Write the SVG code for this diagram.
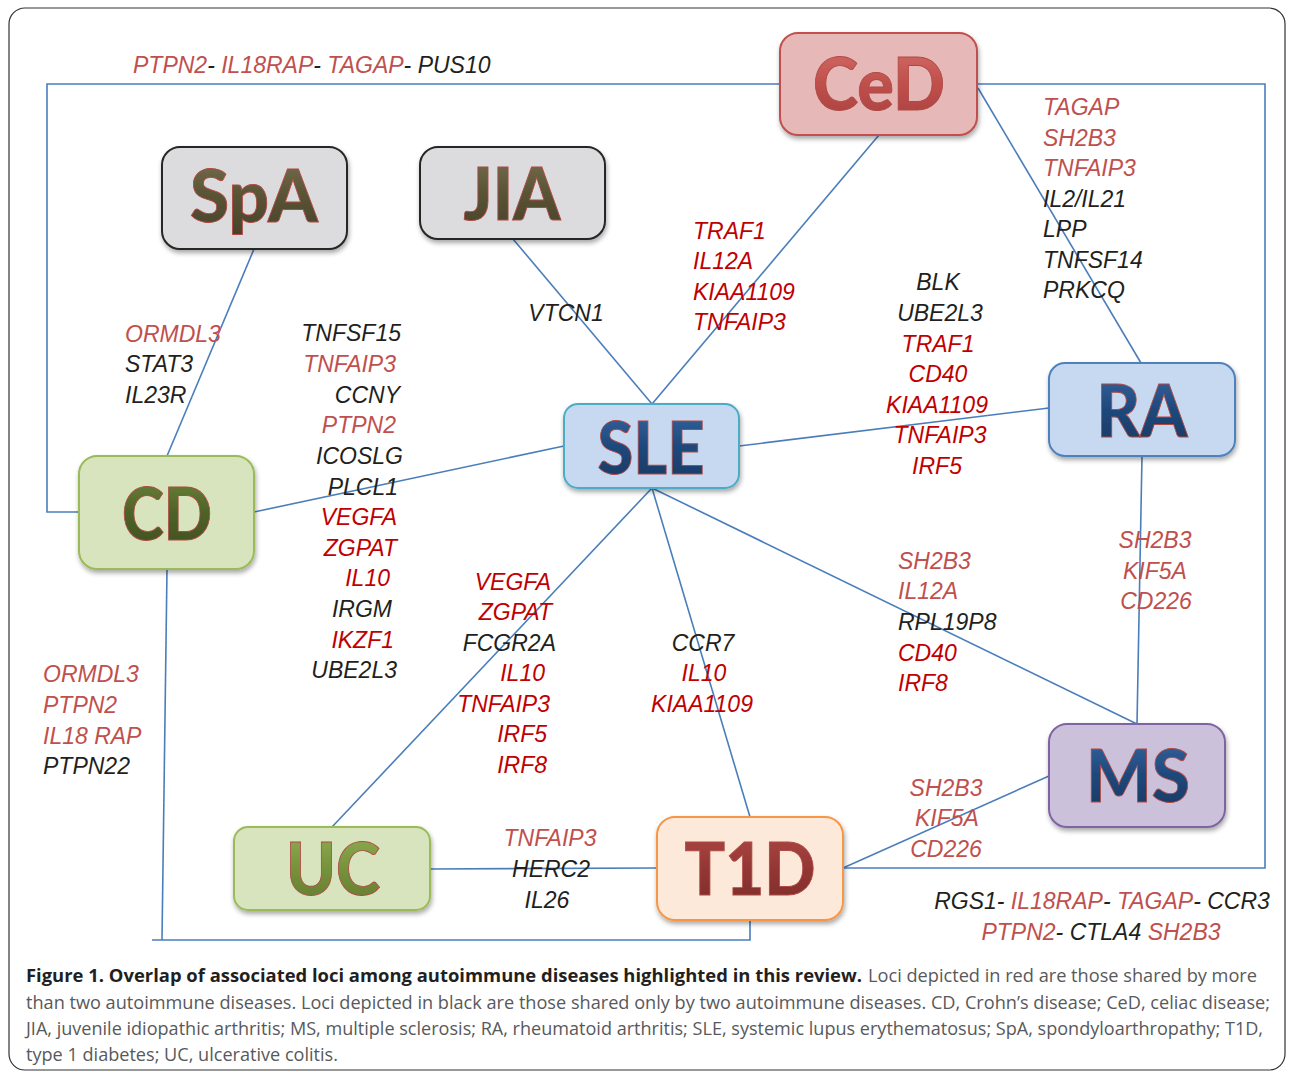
<svg xmlns="http://www.w3.org/2000/svg" width="1290" height="1072" viewBox="0 0 1290 1072">
<style>
.g{font-family:"Liberation Sans",Arial,sans-serif;font-style:italic;font-size:23px}
.k{fill:#231f20}
.r{fill:#c0504d}
.d{fill:#c00000}
.c{fill:none;stroke:#4a7ebb;stroke-width:1.6}
.box{stroke-width:2}
.lab{font-family:Lato,"Open Sans",sans-serif;font-weight:900;font-size:72px;stroke:#b04a45;stroke-width:0.9;text-anchor:middle}
.cap{font-family:"Open Sans","Noto Sans",sans-serif;font-size:18px}
</style>
<defs>
<filter id="sh" x="-10%" y="-10%" width="130%" height="140%">
<feGaussianBlur in="SourceAlpha" stdDeviation="2.5"/>
<feOffset dx="1" dy="3" result="b"/>
<feComponentTransfer><feFuncA type="linear" slope="0.35"/></feComponentTransfer>
<feMerge><feMergeNode/><feMergeNode in="SourceGraphic"/></feMerge>
</filter>
<linearGradient id="gCeD" x1="0" y1="0" x2="0" y2="1"><stop offset="0" stop-color="#d6706c"/><stop offset="0.5" stop-color="#c0504d"/><stop offset="1" stop-color="#a8403d"/></linearGradient>
<linearGradient id="gOl" x1="0" y1="0" x2="0" y2="1"><stop offset="0" stop-color="#7a7352"/><stop offset="0.5" stop-color="#5a5436"/><stop offset="1" stop-color="#47412a"/></linearGradient>
<linearGradient id="gBl" x1="0" y1="0" x2="0" y2="1"><stop offset="0" stop-color="#3a68a3"/><stop offset="0.5" stop-color="#1f497d"/><stop offset="1" stop-color="#17375e"/></linearGradient>
<linearGradient id="gGr" x1="0" y1="0" x2="0" y2="1"><stop offset="0" stop-color="#6f8a3a"/><stop offset="0.5" stop-color="#4f6228"/><stop offset="1" stop-color="#3e4e1f"/></linearGradient>
<linearGradient id="gLg" x1="0" y1="0" x2="0" y2="1"><stop offset="0" stop-color="#95b256"/><stop offset="0.5" stop-color="#77933c"/><stop offset="1" stop-color="#62792f"/></linearGradient>
<linearGradient id="gT1" x1="0" y1="0" x2="0" y2="1"><stop offset="0" stop-color="#b04a47"/><stop offset="0.5" stop-color="#953735"/><stop offset="1" stop-color="#7a2b29"/></linearGradient>
</defs>
<rect x="9" y="8" width="1276" height="1062" rx="16" fill="#fff" stroke="#333" stroke-width="1.2"/>

<g id="connectors">
<polyline class="c" points="79,512 47,512 47,84 780,84"/>
<polyline class="c" points="977,84 1265,84 1265,868 843,868"/>
<line class="c" x1="879" y1="135" x2="652" y2="404"/>
<line class="c" x1="978" y1="88" x2="1141" y2="363"/>
<line class="c" x1="513" y1="239" x2="652" y2="404"/>
<line class="c" x1="254" y1="249" x2="167" y2="456"/>
<line class="c" x1="254" y1="512" x2="564" y2="446"/>
<line class="c" x1="739" y1="446" x2="1049" y2="408"/>
<line class="c" x1="652" y1="488" x2="332" y2="827"/>
<line class="c" x1="652" y1="488" x2="750" y2="817"/>
<line class="c" x1="652" y1="488" x2="1137" y2="724"/>
<line class="c" x1="1142" y1="456" x2="1137" y2="724"/>
<line class="c" x1="430" y1="869" x2="657" y2="868"/>
<line class="c" x1="843" y1="868" x2="1049" y2="776"/>
<polyline class="c" points="167,569 162,940"/>
<polyline class="c" points="152,940 750,940 750,920"/>
</g>

<g id="CeD" filter="url(#sh)">
<rect class="box" x="780" y="33" width="197" height="102" rx="18" fill="#e6b9b8" stroke="#c0504d"/>
<text class="lab" x="879" y="110" fill="url(#gCeD)" textLength="132" lengthAdjust="spacingAndGlyphs">CeD</text>
</g>
<g id="SpA" filter="url(#sh)">
<rect class="box" x="162" y="147" width="185" height="102" rx="18" fill="#dcdcde" stroke="#262626"/>
<text class="lab" x="254" y="222" fill="url(#gOl)" textLength="128" lengthAdjust="spacingAndGlyphs">SpA</text>
</g>
<g id="JIA" filter="url(#sh)">
<rect class="box" x="420" y="147" width="185" height="92" rx="18" fill="#dcdcde" stroke="#262626"/>
<text class="lab" x="512" y="220" fill="url(#gOl)" textLength="97" lengthAdjust="spacingAndGlyphs">JIA</text>
</g>
<g id="SLE" filter="url(#sh)">
<rect class="box" x="564" y="404" width="175" height="84" rx="14" fill="#c6d9f1" stroke="#4bacc6"/>
<text class="lab" x="651" y="474" fill="url(#gBl)" textLength="107" lengthAdjust="spacingAndGlyphs">SLE</text>
</g>
<g id="RA" filter="url(#sh)">
<rect class="box" x="1049" y="363" width="186" height="93" rx="16" fill="#c6d9f1" stroke="#4f81bd"/>
<text class="lab" x="1142" y="437" fill="url(#gBl)" textLength="91" lengthAdjust="spacingAndGlyphs">RA</text>
</g>
<g id="CD" filter="url(#sh)">
<rect class="box" x="79" y="456" width="175" height="113" rx="18" fill="#d7e4bd" stroke="#9bbb59"/>
<text class="lab" x="167" y="540" fill="url(#gGr)" textLength="90" lengthAdjust="spacingAndGlyphs">CD</text>
</g>
<g id="MS" filter="url(#sh)">
<rect class="box" x="1049" y="724" width="176" height="103" rx="18" fill="#ccc1da" stroke="#8064a2"/>
<text class="lab" x="1138" y="802" fill="url(#gBl)" textLength="104" lengthAdjust="spacingAndGlyphs">MS</text>
</g>
<g id="UC" filter="url(#sh)">
<rect class="box" x="234" y="827" width="196" height="83" rx="14" fill="#d7e4bd" stroke="#9bbb59"/>
<text class="lab" x="333" y="895" fill="url(#gLg)" textLength="94" lengthAdjust="spacingAndGlyphs">UC</text>
</g>
<g id="T1D" filter="url(#sh)">
<rect class="box" x="657" y="817" width="186" height="103" rx="18" fill="#fde9d9" stroke="#f79646"/>
<text class="lab" x="750" y="895" fill="url(#gT1)" textLength="131" lengthAdjust="spacingAndGlyphs">T1D</text>
</g>

<g id="loci" class="g">
<text x="133" y="73"><tspan class="r">PTPN2</tspan><tspan class="k">- </tspan><tspan class="r">IL18RAP</tspan><tspan class="k">- </tspan><tspan class="r">TAGAP</tspan><tspan class="k">- PUS10</tspan></text>

<text x="1043" y="115" class="r">TAGAP</text>
<text x="1043" y="146" class="r">SH2B3</text>
<text x="1043" y="176" class="r">TNFAIP3</text>
<text x="1043" y="207" class="k">IL2/IL21</text>
<text x="1043" y="237" class="k">LPP</text>
<text x="1043" y="268" class="k">TNFSF14</text>
<text x="1043" y="298" class="k">PRKCQ</text>

<text x="125" y="342" class="r">ORMDL3</text>
<text x="125" y="372" class="k">STAT3</text>
<text x="125" y="403" class="k">IL23R</text>

<g text-anchor="end">
<text x="401" y="341" class="k">TNFSF15</text>
<text x="396" y="372" class="r">TNFAIP3</text>
<text x="400" y="403" class="k">CCNY</text>
<text x="396" y="433" class="r">PTPN2</text>
<text x="403" y="464" class="k">ICOSLG</text>
<text x="398" y="495" class="k">PLCL1</text>
<text x="397" y="525" class="d">VEGFA</text>
<text x="397" y="556" class="d">ZGPAT</text>
<text x="390" y="586" class="d">IL10</text>
<text x="392" y="617" class="k">IRGM</text>
<text x="394" y="648" class="d">IKZF1</text>
<text x="397" y="678" class="k">UBE2L3</text>
</g>

<text x="566" y="321" class="k" text-anchor="middle">VTCN1</text>

<text x="693" y="239" class="d">TRAF1</text>
<text x="693" y="269" class="d">IL12A</text>
<text x="693" y="300" class="d">KIAA1109</text>
<text x="693" y="330" class="d">TNFAIP3</text>

<g text-anchor="middle">
<text x="938" y="290" class="k">BLK</text>
<text x="940" y="321" class="k">UBE2L3</text>
<text x="938" y="352" class="d">TRAF1</text>
<text x="938" y="382" class="d">CD40</text>
<text x="937" y="413" class="d">KIAA1109</text>
<text x="940" y="443" class="d">TNFAIP3</text>
<text x="937" y="474" class="d">IRF5</text>

<text x="1155" y="548" class="r">SH2B3</text>
<text x="1155" y="579" class="r">KIF5A</text>
<text x="1156" y="609" class="r">CD226</text>

<text x="703" y="651" class="k">CCR7</text>
<text x="704" y="681" class="d">IL10</text>
<text x="702" y="712" class="d">KIAA1109</text>

<text x="550" y="846" class="r">TNFAIP3</text>
<text x="551" y="877" class="k">HERC2</text>
<text x="547" y="908" class="k">IL26</text>

<text x="946" y="796" class="r">SH2B3</text>
<text x="947" y="826" class="r">KIF5A</text>
<text x="946" y="857" class="r">CD226</text>
</g>

<text x="898" y="569" class="r">SH2B3</text>
<text x="898" y="599" class="r">IL12A</text>
<text x="898" y="630" class="k">RPL19P8</text>
<text x="898" y="661" class="d">CD40</text>
<text x="898" y="691" class="d">IRF8</text>

<g text-anchor="end">
<text x="551" y="590" class="d">VEGFA</text>
<text x="552" y="620" class="d">ZGPAT</text>
<text x="556" y="651" class="k">FCGR2A</text>
<text x="545" y="681" class="d">IL10</text>
<text x="550" y="712" class="d">TNFAIP3</text>
<text x="547" y="742" class="d">IRF5</text>
<text x="547" y="773" class="d">IRF8</text>
</g>

<text x="43" y="682" class="r">ORMDL3</text>
<text x="43" y="713" class="r">PTPN2</text>
<text x="43" y="744" class="r">IL18 RAP</text>
<text x="43" y="774" class="k">PTPN22</text>

<text x="1102" y="909" text-anchor="middle"><tspan class="k">RGS1- </tspan><tspan class="r">IL18RAP</tspan><tspan class="k">- </tspan><tspan class="r">TAGAP</tspan><tspan class="k">- CCR3</tspan></text>
<text x="1101" y="940" text-anchor="middle"><tspan class="r">PTPN2</tspan><tspan class="k">- CTLA4 </tspan><tspan class="r">SH2B3</tspan></text>
</g>

<g id="caption" class="cap">
<text x="26" y="982" font-weight="bold" fill="#231f20" textLength="836" lengthAdjust="spacingAndGlyphs">Figure 1. Overlap of associated loci among autoimmune diseases highlighted in this review.</text>
<text x="868" y="982" fill="#58595b" textLength="389" lengthAdjust="spacingAndGlyphs">Loci depicted in red are those shared by more</text>
<text x="26" y="1009" fill="#58595b" textLength="1244" lengthAdjust="spacingAndGlyphs">than two autoimmune diseases. Loci depicted in black are those shared only by two autoimmune diseases. CD, Crohn’s disease; CeD, celiac disease;</text>
<text x="26" y="1035" fill="#58595b" textLength="1237" lengthAdjust="spacingAndGlyphs">JIA, juvenile idiopathic arthritis; MS, multiple sclerosis; RA, rheumatoid arthritis; SLE, systemic lupus erythematosus; SpA, spondyloarthropathy; T1D,</text>
<text x="26" y="1061" fill="#58595b" textLength="312" lengthAdjust="spacingAndGlyphs">type 1 diabetes; UC, ulcerative colitis.</text>
</g>
</svg>
